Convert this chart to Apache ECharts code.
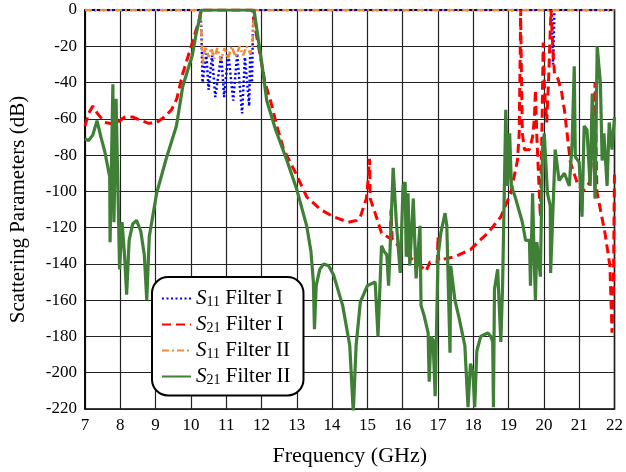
<!DOCTYPE html>
<html>
<head>
<meta charset="utf-8">
<script src="https://cdn.jsdelivr.net/npm/echarts@6/dist/echarts.min.js"></script>
<style>
  html, body { margin: 0; padding: 0; background: #fff; }
  #chart { width: 626px; height: 472px; }
</style>
</head>
<body>
<div id="chart"></div>
<script>
// S11 Filter I (blue dotted)
const s11f1Freq = [7, 10.27, 10.3, 10.33, 10.44, 10.5, 10.6, 10.69, 10.86, 10.94, 11.06, 11.2, 11.31, 11.45, 11.53, 11.65, 11.68, 11.73, 11.76, 11.79, 20.22, 20.26, 20.3, 22];
const s11f1Db = [0, 0, -13, -40, -24, -44, -25, -48, -25, -48, -24, -50, -24, -57, -26, -53, -24, -40, -9, 0, 0, -30, 0, 0];

// S21 Filter I (red dashed)
const s21f1Freq = [7, 7.1, 7.22, 7.35, 7.56, 7.85, 8.13, 8.35, 8.6, 8.8, 9.03, 9.25, 9.45, 9.6, 9.77, 10.04, 10.24, 10.28,
  11.73, 11.85, 11.98, 12.1, 12.27, 12.45, 12.63, 12.97, 13.28, 13.67, 14.04, 14.46, 14.7, 14.8, 14.97, 15.03, 15.06, 15.08,
  15.22, 15.4, 15.65, 15.67, 15.7, 15.96, 16.24, 16.5, 16.66, 16.77, 16.98, 17.0, 17.02, 17.48, 17.93, 18.13, 18.41, 18.78,
  19.06, 19.25, 19.3, 19.33, 19.34, 19.36, 19.39, 19.45, 19.59, 19.68, 19.73, 19.76, 19.8, 19.9, 19.95, 19.98, 20.02, 20.08,
  20.14, 20.2, 20.25, 20.3, 20.4, 20.5, 20.58, 20.75, 20.94, 21.1, 21.3, 21.4, 21.45, 21.5, 21.73, 21.87, 21.93, 21.97, 22];
const s21f1Db = [-64, -57, -53, -57, -62, -63, -59, -59, -61, -62.5, -62, -59, -55, -49, -35, -18, -5, 0,
  0, -13, -27, -40, -51, -65, -77, -90, -103, -110, -114, -117, -116, -114, -104, -92, -82, -104,
  -112, -123, -126, -110, -126, -132, -137, -141, -144, -139, -139, -125, -138, -136, -132, -128, -123, -114,
  -101, -83, -68, -22, 0, -30, -68, -77, -77, -70, -60, -44, -70, -114, -60, -18, -45, -62,
  -35, 0, -20, -35, -38, -45, -55, -84, -95, -100, -95, -70, -40, -100, -123, -141, -178, -150, -88];

// S11 Filter II (orange dash-dot)
const s11f2Freq = [7, 10.27, 10.31, 10.34, 10.36, 10.42, 10.5, 10.58, 10.66, 10.75, 10.85, 10.95, 11.05, 11.15, 11.27, 11.38, 11.48, 11.58, 11.68, 11.74, 11.78, 11.8, 22];
const s11f2Db = [0, 0, -18, -30, -26, -20, -26, -21, -27, -21, -28, -21, -27, -20, -26, -20, -25, -20, -24, -20, -5, 0, 0];

// S21 Filter II (green solid)
const s21f2Freq = [7, 7.1, 7.22, 7.34, 7.45, 7.56, 7.7, 7.71, 7.79, 7.82, 7.88, 7.98, 8.05, 8.12, 8.18, 8.25, 8.35, 8.46,
  8.58, 8.68, 8.75, 8.82, 9.03, 9.3, 9.59, 9.77, 10.04, 10.15, 10.3, 11.79, 11.9, 12.02, 12.15, 12.4, 12.72, 13.0, 13.28,
  13.4, 13.47, 13.5, 13.55, 13.65, 13.76, 13.9, 14.04, 14.3, 14.5, 14.6, 14.68, 14.8, 15.0, 15.22, 15.3, 15.4, 15.47,
  15.55, 15.6, 15.65, 15.73, 15.82, 15.93, 16.01, 16.07, 16.1, 16.15, 16.2, 16.3, 16.38, 16.49, 16.52, 16.6, 16.72,
  16.75, 16.8, 16.86, 16.92, 17.0, 17.08, 17.2, 17.25, 17.34, 17.36, 17.48, 17.6, 17.76, 17.85, 17.92, 17.99, 18.04,
  18.1, 18.21, 18.41, 18.5, 18.55, 18.57, 18.6, 18.69, 18.78, 18.83, 18.92, 18.97, 19.03, 19.08, 19.2, 19.39, 19.48,
  19.59, 19.62, 19.68, 19.72, 19.76, 19.8, 19.9, 19.96, 20.01, 20.06, 20.1, 20.18, 20.19, 20.32, 20.43, 20.58, 20.72,
  20.8, 20.86, 20.89, 21.0, 21.08, 21.14, 21.22, 21.31, 21.37, 21.45, 21.51, 21.6, 21.65, 21.7, 21.79, 21.85, 21.93, 22];
const s21f2Db = [-71, -72, -69, -61, -70, -78, -92, -128, -41, -117, -49, -143, -117, -135, -157, -127, -118, -116,
  -122, -135, -160, -125, -101, -82, -64, -42, -25, -13, 0, 0, -15, -31, -50, -66, -83, -99, -119,
  -133, -150, -176, -152, -143, -140, -141, -146, -163, -185, -222, -185, -161, -152, -150, -180, -130, -133,
  -135, -152, -128, -87, -117, -145, -97, -95, -136, -101, -141, -104, -148, -119, -163, -168, -178,
  -205, -180, -182, -213, -136, -123, -112, -119, -189, -141, -160, -170, -185, -219, -195, -200, -219,
  -188, -180, -178, -180, -183, -219, -154, -143, -183, -152, -55, -97, -68, -97, -104, -117, -127,
  -127, -152, -101, -134, -160, -128, -147, -77, -68, -68, -101, -108, -145, -77, -94, -90, -97,
  -73, -31, -81, -84, -114, -64, -66, -97, -46, -104, -20, -40, -83, -68, -97, -62, -77, -59];

const seriesNames = ['S11 Filter I', 'S21 Filter I', 'S11 Filter II', 'S21 Filter II'];
const xTicks = [7, 22, 1];
const yTicks = [-220, 0, 20];

const pairs = (fs, ds) => fs.map((f, i) => [f, ds[i]]);
const serif = 'Liberation Serif';

const chart = echarts.init(document.getElementById('chart'));
chart.setOption({
  animation: false,
  grid: {
    left: 85, right: 8, top: 10, bottom: 63,
    show: true, borderColor: '#000', borderWidth: 1.5,
  },
  xAxis: {
    type: 'value',
    min: xTicks[0], max: xTicks[1], interval: xTicks[2],
    name: 'Frequency (GHz)',
    nameLocation: 'middle',
    nameGap: 36,
    nameTextStyle: { fontFamily: serif, fontSize: 22, color: '#000' },
    axisLine: { show: true, lineStyle: { color: '#000', width: 1.5 } },
    axisTick: { show: false },
    axisLabel: { fontFamily: serif, fontSize: 17, color: '#000', margin: 8 },
    splitLine: { show: true, lineStyle: { color: '#222', width: 1.2 } },
  },
  yAxis: {
    type: 'value',
    min: yTicks[0], max: yTicks[1], interval: yTicks[2],
    name: 'Scattering Parameters (dB)',
    nameLocation: 'middle',
    nameGap: 56,
    nameTextStyle: { fontFamily: serif, fontSize: 21, color: '#000' },
    axisLine: { show: true, lineStyle: { color: '#000', width: 1.5 } },
    axisTick: { show: false },
    axisLabel: { fontFamily: serif, fontSize: 17, color: '#000', margin: 8 },
    splitLine: { show: true, lineStyle: { color: '#222', width: 1.2 } },
  },
  legend: {
    data: seriesNames,
    orient: 'vertical',
    left: 152, top: 277,
    itemWidth: 29, itemHeight: 12, itemGap: 4.5,
    padding: [11, 13, 8, 9],
    backgroundColor: '#fff',
    borderColor: '#000', borderWidth: 2, borderRadius: 16,
    itemStyle: { opacity: 0 },
    formatter: (name) => {
      const parts = name.split(' ');
      return '{i|S}{sub|' + parts[0].slice(1) + '}{t| ' + parts.slice(1).join(' ') + '}';
    },
    textStyle: {
      fontFamily: serif, fontSize: 21, color: '#000',
      rich: {
        i: { fontFamily: serif, fontSize: 21, fontStyle: 'italic', color: '#000', lineHeight: 22 },
        sub: { fontFamily: serif, fontSize: 14, color: '#000', verticalAlign: 'bottom', lineHeight: 22 },
        t: { fontFamily: serif, fontSize: 21, color: '#000', lineHeight: 22 },
      },
    },
  },
  series: [
    {
      name: seriesNames[0], type: 'line', symbol: 'none',
      data: pairs(s11f1Freq, s11f1Db),
      lineStyle: { color: '#0000ff', width: 2.5, type: [2, 2.5] },
      itemStyle: { color: '#0000ff' },
    },
    {
      name: seriesNames[1], type: 'line', symbol: 'none',
      data: pairs(s21f1Freq, s21f1Db),
      lineStyle: { color: '#ff0000', width: 3, type: [9, 5] },
      itemStyle: { color: '#ff0000' },
    },
    {
      name: seriesNames[2], type: 'line', symbol: 'none',
      data: pairs(s11f2Freq, s11f2Db),
      lineStyle: { color: '#f08a3c', width: 2.5, type: [7, 3, 2, 3] },
      itemStyle: { color: '#f08a3c' },
    },
    {
      name: seriesNames[3], type: 'line', symbol: 'none',
      data: pairs(s21f2Freq, s21f2Db),
      lineStyle: { color: '#3f7f36', width: 3.2 },
      itemStyle: { color: '#3f7f36' },
    },
  ],
});
</script>
</body>
</html>
